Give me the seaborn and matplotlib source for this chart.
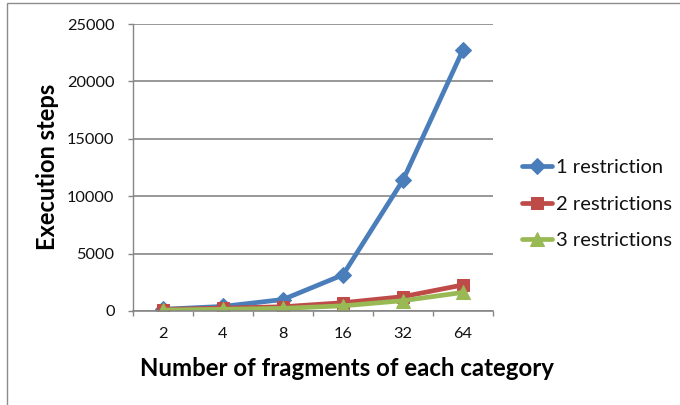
import matplotlib
matplotlib.use("Agg")
import matplotlib.pyplot as plt
import seaborn as sns
import pandas as pd
from matplotlib.patches import Rectangle

# Data
categories = ["2", "4", "8", "16", "32", "64"]
one_restriction = [150, 400, 1000, 3150, 11400, 22750]
two_restrictions = [130, 250, 370, 720, 1250, 2270]
three_restrictions = [80, 150, 230, 450, 900, 1620]
series_names = ["1 restriction", "2 restrictions", "3 restrictions"]
y_ticks = [0, 5000, 10000, 15000, 20000, 25000]

colors = ["#4A7EBB", "#BE4B48", "#98B954"]
markers = ["D", "s", "^"]
marker_sizes = [8, 9, 10.5]
grid_gray = "#868686"

sns.set_theme(style="white")
plt.rcParams["font.family"] = ["Lato", "DejaVu Sans"]

rows = []
for name, vals in zip(series_names, [one_restriction, two_restrictions, three_restrictions]):
    for i, v in enumerate(vals):
        rows.append({"pos": i, "steps": v, "series": name})
df = pd.DataFrame(rows)

fig = plt.figure(figsize=(6.8, 4.05), dpi=100)
ax = fig.add_axes([133 / 680, 1 - 311 / 405, 360 / 680, 287 / 405])

# chart frame
fig.patches.append(Rectangle((7 / 680, -0.1), 1.2, 1 - 3 / 405 + 0.1,
                             transform=fig.transFigure, fill=False,
                             edgecolor="#8c8c8c", linewidth=1.0))

for name, c, m, ms in zip(series_names, colors, markers, marker_sizes):
    sub = df[df["series"] == name]
    sns.lineplot(data=sub, x="pos", y="steps", ax=ax, color=c, linewidth=3.4,
                 marker=m, markersize=ms, markeredgecolor=c, label=name,
                 estimator=None, sort=False)

ax.set_xlim(-0.5, len(categories) - 0.5)
ax.set_ylim(0, 25000)
ax.set_yticks(y_ticks)
ax.set_yticklabels([str(t) for t in y_ticks], fontsize=11.8, color="#111111")
ax.set_xticks(range(len(categories)))
ax.set_xticklabels(categories, fontsize=11.8, color="#111111")
# tick marks sit on the category boundaries
ax.set_xticks([i - 0.5 for i in range(len(categories) + 1)], minor=True)
ax.tick_params(axis="x", which="major", length=0, pad=11.5)
ax.tick_params(axis="x", which="minor", length=3.8, width=1, color=grid_gray,
               direction="out", bottom=True)
ax.tick_params(axis="y", which="major", length=3.8, width=1, color=grid_gray,
               direction="out", left=True, pad=9.5)

ax.yaxis.grid(True, color=grid_gray, linewidth=1.2)
ax.xaxis.grid(False)
for side in ["top", "right"]:
    ax.spines[side].set_visible(False)
ax.spines["left"].set_color(grid_gray)
ax.spines["bottom"].set_color(grid_gray)
ax.spines["left"].set_linewidth(1)
ax.spines["bottom"].set_linewidth(1.2)

ax.set_xlabel("Number of fragments of each category", fontsize=17.3,
              fontweight="bold", color="black", va="center")
ax.set_ylabel("Execution steps", fontsize=17, fontweight="bold",
              color="black", va="center")
ax.xaxis.set_label_coords((347 - 133) / 360, (311 - 368) / 287)
ax.yaxis.set_label_coords((48 - 133) / 360, (311 - 167) / 287)

leg = ax.legend(loc="center left", bbox_to_anchor=((522 - 133) / 360, (311 - 204) / 287),
                frameon=False, fontsize=14.5, handlelength=1.5,
                handletextpad=0.2, labelspacing=0.95, borderaxespad=0,
                borderpad=0)
for t in leg.get_texts():
    t.set_color("#111111")

fig.savefig("out.png", dpi=100)
